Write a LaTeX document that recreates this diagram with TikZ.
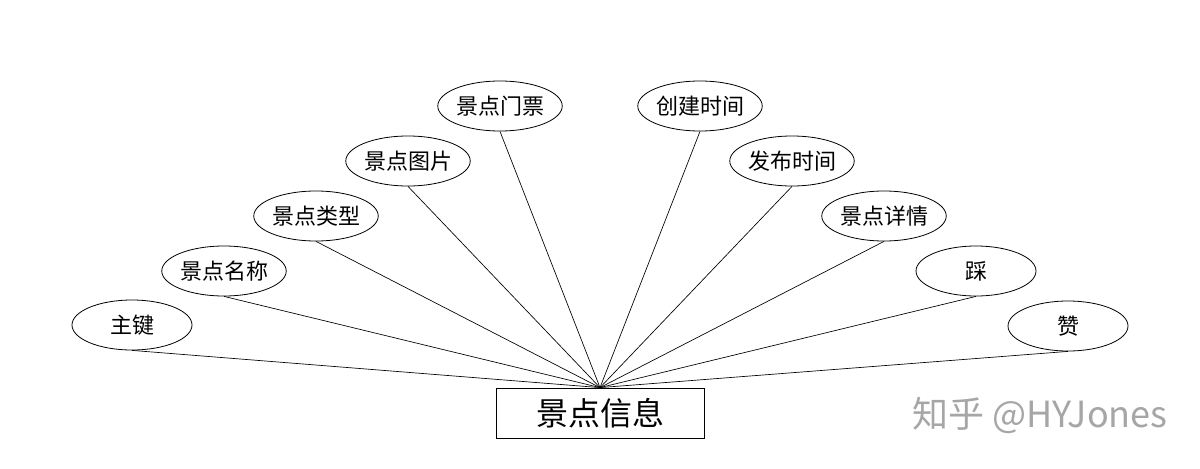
\documentclass[tikz,border=0pt]{standalone}
\usepackage{fontspec}
\setmainfont{Noto Sans CJK SC}
\usetikzlibrary{shapes.geometric}
\begin{document}
\begin{tikzpicture}[x=0.75pt,y=-0.75pt,
  attr/.style={draw=black,line width=0.6pt,ellipse,minimum width=90pt,minimum height=37.5pt,inner sep=0pt,font=\fontsize{16.5}{18}\selectfont},
  entity/.style={draw=black,line width=0.6pt,rectangle,minimum width=156pt,minimum height=37.5pt,inner sep=0pt,font=\fontsize{24}{28}\selectfont},
  link/.style={line width=0.5pt,black}]
\useasboundingbox (0,0) rectangle (1200,468);
\node[entity] (e) at (600,413) {景点信息};
\node[attr] (a1) at (132,325) {主键};
\node[attr] (a2) at (224,271) {景点名称};
\node[attr] (a3) at (316,216) {景点类型};
\node[attr] (a4) at (408,161) {景点图片};
\node[attr] (a5) at (500,106) {景点门票};
\node[attr] (a6) at (700,106) {创建时间};
\node[attr] (a7) at (792,161) {发布时间};
\node[attr] (a8) at (884,216) {景点详情};
\node[attr] (a9) at (976,271) {踩};
\node[attr] (a10) at (1068,326) {赞};
\foreach \i in {1,...,10} \draw[link] (a\i.south) -- (e.north);
\node[text=black!35,font=\fontsize{27}{30}\selectfont,inner sep=0pt] (wm) at (1040,415) {知乎 @HYJones};
\end{tikzpicture}
\end{document}
